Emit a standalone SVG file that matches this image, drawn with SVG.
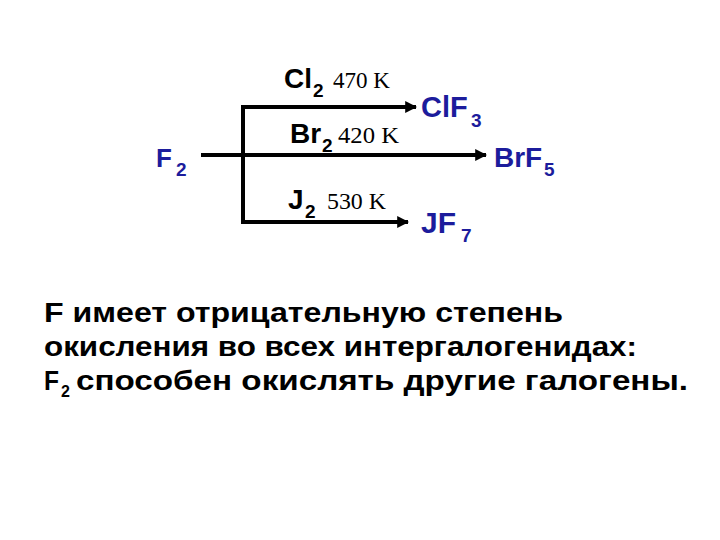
<svg xmlns="http://www.w3.org/2000/svg" width="720" height="540" viewBox="0 0 720 540">
<style>
.b{font-family:"Liberation Sans",Arial,sans-serif;font-weight:bold}
.blue{fill:#1c1c9c}
.blk{fill:#000}
.s{font-family:"Liberation Serif","Times New Roman",serif;font-size:24px;fill:#000}
.ln{stroke:#000;stroke-width:4;fill:none}
</style>
<defs>
<marker id="ah" viewBox="0 0 10 10" refX="9" refY="5" markerWidth="3" markerHeight="3" orient="auto" markerUnits="strokeWidth">
<path d="M0,0 L10,5 L0,10 z" fill="#000"/>
</marker>
</defs>
<rect width="720" height="540" fill="#fff"/>
<g id="connectors">
<line class="ln" x1="201" y1="155" x2="486" y2="155" marker-end="url(#ah)"/>
<line class="ln" x1="243" y1="105" x2="243" y2="224"/>
<line class="ln" x1="241" y1="107" x2="416" y2="107" marker-end="url(#ah)"/>
<line class="ln" x1="241" y1="222" x2="408" y2="222" marker-end="url(#ah)"/>
</g>
<g id="F2">
<text class="b blue" x="156" y="167" font-size="26">F</text>
<text class="b blue" x="176" y="176" font-size="19">2</text>
</g>
<g id="Cl2">
<text class="b blk" x="284" y="88" font-size="28">Cl</text>
<text class="b blk" x="313" y="97" font-size="19">2</text>
<text class="s" x="333" y="88" textLength="57" lengthAdjust="spacingAndGlyphs">470 K</text>
</g>
<g id="Br2">
<text class="b blk" x="290" y="143" font-size="28">Br</text>
<text class="b blk" x="322" y="152" font-size="19">2</text>
<text class="s" x="338" y="143" textLength="61" lengthAdjust="spacingAndGlyphs">420 K</text>
</g>
<g id="J2">
<text class="b blk" x="288" y="209" font-size="28">J</text>
<text class="b blk" x="305" y="218" font-size="19">2</text>
<text class="s" x="327" y="209" textLength="59" lengthAdjust="spacingAndGlyphs">530 K</text>
</g>
<g id="ClF3">
<text class="b blue" x="421" y="117" font-size="29">ClF</text>
<text class="b blue" x="471" y="127" font-size="19">3</text>
</g>
<g id="BrF5">
<text class="b blue" x="494" y="167" font-size="28">BrF</text>
<text class="b blue" x="544" y="176" font-size="19">5</text>
</g>
<g id="JF7">
<text class="b blue" x="421" y="233" font-size="30">JF</text>
<text class="b blue" x="461" y="242" font-size="19">7</text>
</g>
<g id="caption">
<text class="b blk" x="44" y="322" font-size="27" textLength="519" lengthAdjust="spacingAndGlyphs">F имеет отрицательную степень</text>
<text class="b blk" x="44" y="356" font-size="27" textLength="593" lengthAdjust="spacingAndGlyphs">окисления во всех интергалогенидах:</text>
<text class="b blk" x="44" y="390" font-size="27" textLength="15" lengthAdjust="spacingAndGlyphs">F</text>
<text class="b blk" x="61" y="397" font-size="16">2</text>
<text class="b blk" x="76" y="390" font-size="27" textLength="612" lengthAdjust="spacingAndGlyphs">способен окислять другие галогены.</text>
</g>
</svg>
